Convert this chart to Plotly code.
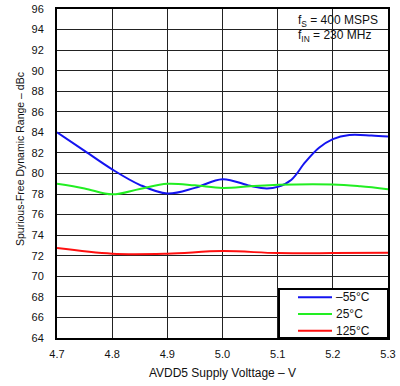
import plotly.graph_objects as go

# Data
x_m55 = [4.70, 4.75, 4.80, 4.85, 4.90, 4.95, 5.00, 5.05, 5.08, 5.10, 5.125, 5.15, 5.175, 5.20, 5.23, 5.27, 5.30]
y_m55 = [84.0, 82.2, 80.4, 78.9, 78.05, 78.6, 79.45, 78.8, 78.55, 78.7, 79.4, 81.1, 82.5, 83.35, 83.75, 83.7, 83.6]

x_25 = [4.70, 4.75, 4.80, 4.85, 4.90, 4.95, 5.00, 5.05, 5.10, 5.20, 5.25, 5.30]
y_25 = [79.0, 78.55, 77.97, 78.5, 79.0, 78.85, 78.6, 78.75, 78.9, 78.93, 78.75, 78.47]

x_125 = [4.70, 4.80, 4.90, 5.00, 5.10, 5.20, 5.30]
y_125 = [72.75, 72.2, 72.2, 72.45, 72.26, 72.26, 72.3]

series_names = ["\u201355\u00b0C", "25\u00b0C", "125\u00b0C"]
series_colors = ["#1414f0", "#22ee22", "#ff1010"]

x_ticks = [4.7, 4.8, 4.9, 5.0, 5.1, 5.2, 5.3]
x_ticklabels = ["4.7", "4.8", "4.9", "5.0", "5.1", "5.2", "5.3"]
y_ticks = list(range(64, 97, 2))

FONT = "Liberation Sans, Arial, sans-serif"

fig = go.Figure()
for xs, ys, name, col in zip([x_m55, x_25, x_125], [y_m55, y_25, y_125], series_names, series_colors):
    fig.add_trace(go.Scatter(x=xs, y=ys, mode="lines", name=name, showlegend=False,
                             line=dict(color=col, width=2, shape="spline", smoothing=1.0)))

# plot area in px: x 57..388, y 9..338
L, R, T, B = 57, 388, 9, 338
W, H = R - L, B - T
def px(xp):
    return (xp - L) / W
def py(yp):
    return (B - yp) / H

fig.update_layout(
    width=400, height=386,
    margin=dict(l=L, r=400 - R, t=T, b=386 - B, autoexpand=False),
    paper_bgcolor="white", plot_bgcolor="white",
    font=dict(family=FONT, size=11, color="#111"),
    showlegend=False,
    xaxis=dict(range=[4.7, 5.3], tickvals=x_ticks, ticktext=x_ticklabels,
               showgrid=True, gridcolor="#222", gridwidth=1, automargin=False,
               showline=True, linecolor="black", linewidth=2, mirror=True,
               zeroline=False, ticks="", ticklabelstandoff=5,
               title=dict(text="AVDD5 Supply Volttage \u2013 V", font=dict(size=12, color="#111"), standoff=9)),
    yaxis=dict(range=[64, 96], tickvals=y_ticks, automargin=False,
               showgrid=True, gridcolor="#222", gridwidth=1,
               showline=True, linecolor="black", linewidth=2, mirror=True,
               zeroline=False, ticks="", ticklabelstandoff=9),
)

# white box behind the conditions note (covers grid, below traces)
fig.add_shape(type="rect", xref="paper", yref="paper",
              x0=px(288), x1=px(385), y0=py(45), y1=py(10),
              fillcolor="white", line=dict(width=0), layer="between")

fig.add_annotation(xref="paper", yref="paper", x=px(296), y=py(21), xanchor="left", yanchor="middle",
                   text="f<sub>S</sub> = 400 MSPS", showarrow=False, font=dict(size=12, color="#111"))
fig.add_annotation(xref="paper", yref="paper", x=px(296), y=py(36), xanchor="left", yanchor="middle",
                   text="f<sub>IN</sub> = 230 MHz", showarrow=False, font=dict(size=12, color="#111"))

# legend box (bottom right)
fig.add_shape(type="rect", xref="paper", yref="paper",
              x0=px(279), x1=1, y0=0, y1=py(289),
              fillcolor="white", line=dict(color="black", width=2), layer="above")
legend_rows = [297.3, 314.0, 330.7]
for name, col, yr in zip(series_names, series_colors, legend_rows):
    fig.add_shape(type="line", xref="paper", yref="paper",
                  x0=px(298), x1=px(332), y0=py(yr), y1=py(yr),
                  line=dict(color=col, width=2), layer="above")
    fig.add_annotation(xref="paper", yref="paper", x=px(334), y=py(yr), xanchor="left", yanchor="middle",
                       text=name, showarrow=False, font=dict(size=12, color="#111"))

# y axis title
fig.add_annotation(xref="paper", yref="paper", x=px(20), y=py(159), xanchor="center", yanchor="middle",
                   text="Spurious-Free Dynamic Range \u2013 dBc", textangle=-90, showarrow=False,
                   font=dict(size=10.5, color="#111"))

fig.write_html("out.html")
